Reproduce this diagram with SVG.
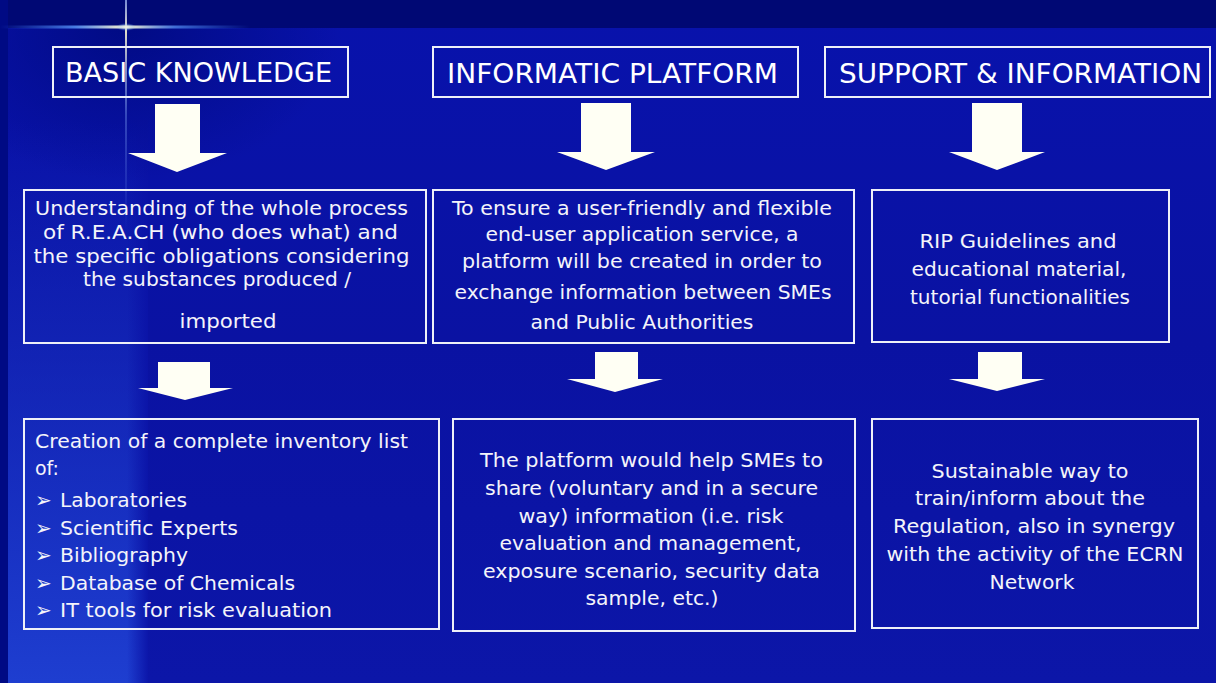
<svg xmlns="http://www.w3.org/2000/svg" width="1216" height="683" viewBox="0 0 1216 683">
  <defs>
    <linearGradient id="bgLeft" x1="0" y1="0" x2="0" y2="1">
      <stop offset="0" stop-color="#1a36c8" stop-opacity="0"/>
      <stop offset="0.3" stop-color="#1a36c8" stop-opacity="0.35"/>
      <stop offset="1" stop-color="#1e3ed0" stop-opacity="1"/>
    </linearGradient>
    <linearGradient id="bgLeftEdge" x1="0" y1="0" x2="1" y2="0">
      <stop offset="0" stop-color="#0a12a6" stop-opacity="0"/>
      <stop offset="0.85" stop-color="#0a12a6" stop-opacity="0"/>
      <stop offset="1" stop-color="#0a12a6" stop-opacity="0.9"/>
    </linearGradient>
    <linearGradient id="bgMain" x1="0" y1="0" x2="0" y2="1">
      <stop offset="0" stop-color="#0812ac"/>
      <stop offset="0.5" stop-color="#0a12a2"/>
      <stop offset="1" stop-color="#0c16a8"/>
    </linearGradient>
    <radialGradient id="topLeftDark" cx="0.35" cy="0.1" r="0.6">
      <stop offset="0" stop-color="#000a80" stop-opacity="0.9"/>
      <stop offset="0.5" stop-color="#000a80" stop-opacity="0.45"/>
      <stop offset="1" stop-color="#000a80" stop-opacity="0"/>
    </radialGradient>
    <linearGradient id="flareH" x1="0" y1="0" x2="1" y2="0">
      <stop offset="0" stop-color="#3a78ff" stop-opacity="0"/>
      <stop offset="0.3" stop-color="#5a98ff" stop-opacity="0.8"/>
      <stop offset="0.5" stop-color="#fff8d0" stop-opacity="1"/>
      <stop offset="0.7" stop-color="#5a98ff" stop-opacity="0.7"/>
      <stop offset="1" stop-color="#3a78ff" stop-opacity="0"/>
    </linearGradient>
    <linearGradient id="flareV" x1="0" y1="0" x2="0" y2="1">
      <stop offset="0" stop-color="#a8c0ff" stop-opacity="0.7"/>
      <stop offset="0.13" stop-color="#fff8d0" stop-opacity="0.9"/>
      <stop offset="0.5" stop-color="#8ab0ff" stop-opacity="0.35"/>
      <stop offset="1" stop-color="#8ab0ff" stop-opacity="0"/>
    </linearGradient>
    <radialGradient id="glow" cx="0.5" cy="0.5" r="0.5">
      <stop offset="0" stop-color="#fffbe0" stop-opacity="1"/>
      <stop offset="1" stop-color="#6aa8ff" stop-opacity="0"/>
    </radialGradient>
    <style>
      .box { fill: none; stroke: #eef0f8; stroke-width: 2; }
      .arrow { fill: #fffff4; }
      .hdr { font-family: "DejaVu Sans", "Liberation Sans", sans-serif; font-size: 26px; fill: #ffffff; }
      .txt { font-family: "DejaVu Sans", "Liberation Sans", sans-serif; font-size: 20px; fill: #f4f4fa; }
      .c { text-anchor: middle; }
    </style>
  </defs>

  <!-- background -->
  <rect x="0" y="0" width="1216" height="683" fill="url(#bgMain)"/>
  <rect x="8" y="120" width="140" height="563" fill="url(#bgLeft)"/>
  <rect x="8" y="120" width="140" height="563" fill="url(#bgLeftEdge)"/>
  <rect x="0" y="0" width="360" height="260" fill="url(#topLeftDark)"/>
  <rect x="0" y="0" width="1216" height="28" fill="#000874"/>
  <rect x="0" y="0" width="8" height="683" fill="#000a84"/>
  <!-- lens flare -->
  <rect x="0" y="25.5" width="250" height="3" fill="url(#flareH)"/>
  <rect x="125" y="0" width="2" height="230" fill="url(#flareV)"/>
  <ellipse cx="126" cy="27" rx="10" ry="4" fill="url(#glow)"/>

  <!-- connectors (block arrows) -->
  <g id="connectors">
    <polygon class="arrow" points="155,104 200,104 200,153 227,153 177,172 128,153 155,153"/>
    <polygon class="arrow" points="581,103 631,103 631,152 655,152 606,170 557,152 581,152"/>
    <polygon class="arrow" points="972,103 1022,103 1022,152 1045,152 997,170 949,152 972,152"/>
    <polygon class="arrow" points="158,362 210,362 210,388 233,388 185,400 138,388 158,388"/>
    <polygon class="arrow" points="595,352 638,352 638,379 663,379 615,392 567,379 595,379"/>
    <polygon class="arrow" points="978,352 1022,352 1022,379 1045,379 997,391 949,379 978,379"/>
  </g>

  <!-- headers -->
  <g id="hdr-basic">
    <rect class="box" x="53" y="47" width="295" height="50"/>
    <text class="hdr" x="65" y="82" textLength="267" lengthAdjust="spacingAndGlyphs">BASIC KNOWLEDGE</text>
  </g>
  <g id="hdr-informatic">
    <rect class="box" x="433" y="47" width="365" height="50"/>
    <text class="hdr" x="447" y="83" textLength="331" lengthAdjust="spacingAndGlyphs">INFORMATIC PLATFORM</text>
  </g>
  <g id="hdr-support">
    <rect class="box" x="825" y="47" width="385" height="50"/>
    <text class="hdr" x="839" y="83" textLength="363" lengthAdjust="spacingAndGlyphs">SUPPORT &amp; INFORMATION</text>
  </g>

  <!-- middle row -->
  <g id="mid-basic">
    <rect class="box" x="24" y="190" width="402" height="153"/>
    <text class="txt c" x="221.5" y="215" textLength="373" lengthAdjust="spacingAndGlyphs">Understanding of the whole process</text>
    <text class="txt c" x="220.5" y="239" textLength="355" lengthAdjust="spacingAndGlyphs">of R.E.A.CH (who does what) and</text>
    <text class="txt c" x="221.5" y="263" textLength="376" lengthAdjust="spacingAndGlyphs">the specific obligations considering</text>
    <text class="txt c" x="217" y="286" textLength="268" lengthAdjust="spacingAndGlyphs">the substances produced /</text>
    <text class="txt c" x="228" y="328" textLength="97" lengthAdjust="spacingAndGlyphs">imported</text>
  </g>
  <g id="mid-informatic">
    <rect class="box" x="433" y="190" width="421" height="153"/>
    <text class="txt c" x="642" y="215" textLength="380" lengthAdjust="spacingAndGlyphs">To ensure a user-friendly and flexible</text>
    <text class="txt c" x="642" y="241" textLength="313" lengthAdjust="spacingAndGlyphs">end-user application service, a</text>
    <text class="txt c" x="642" y="268" textLength="360" lengthAdjust="spacingAndGlyphs">platform will be created in order to</text>
    <text class="txt c" x="643" y="299" textLength="377" lengthAdjust="spacingAndGlyphs">exchange information between SMEs</text>
    <text class="txt c" x="642" y="329" textLength="223" lengthAdjust="spacingAndGlyphs">and Public Authorities</text>
  </g>
  <g id="mid-support">
    <rect class="box" x="872" y="190" width="297" height="152"/>
    <text class="txt c" x="1018" y="248" textLength="197" lengthAdjust="spacingAndGlyphs">RIP Guidelines and</text>
    <text class="txt c" x="1019" y="276" textLength="215" lengthAdjust="spacingAndGlyphs">educational material,</text>
    <text class="txt c" x="1020" y="304" textLength="220" lengthAdjust="spacingAndGlyphs">tutorial functionalities</text>
  </g>

  <!-- bottom row -->
  <g id="bot-basic">
    <rect class="box" x="24" y="419" width="415" height="210"/>
    <text class="txt" x="35" y="448" textLength="373" lengthAdjust="spacingAndGlyphs">Creation of a complete inventory list</text>
    <text class="txt" x="35" y="475" textLength="24" lengthAdjust="spacingAndGlyphs">of:</text>
    <text class="txt" x="35" y="507">➢</text>
    <text class="txt" x="60" y="507" textLength="127" lengthAdjust="spacingAndGlyphs">Laboratories</text>
    <text class="txt" x="35" y="535">➢</text>
    <text class="txt" x="60" y="535" textLength="178" lengthAdjust="spacingAndGlyphs">Scientific Experts</text>
    <text class="txt" x="35" y="562">➢</text>
    <text class="txt" x="60" y="562" textLength="128" lengthAdjust="spacingAndGlyphs">Bibliography</text>
    <text class="txt" x="35" y="590">➢</text>
    <text class="txt" x="60" y="590" textLength="235" lengthAdjust="spacingAndGlyphs">Database of Chemicals</text>
    <text class="txt" x="35" y="617">➢</text>
    <text class="txt" x="60" y="617" textLength="272" lengthAdjust="spacingAndGlyphs">IT tools for risk evaluation</text>
  </g>
  <g id="bot-informatic">
    <rect class="box" x="453" y="419" width="402" height="212"/>
    <text class="txt c" x="651.5" y="467" textLength="343" lengthAdjust="spacingAndGlyphs">The platform would help SMEs to</text>
    <text class="txt c" x="651.5" y="495" textLength="333" lengthAdjust="spacingAndGlyphs">share (voluntary and in a secure</text>
    <text class="txt c" x="651" y="523" textLength="265" lengthAdjust="spacingAndGlyphs">way) information (i.e. risk</text>
    <text class="txt c" x="650.5" y="550" textLength="302" lengthAdjust="spacingAndGlyphs">evaluation and management,</text>
    <text class="txt c" x="651.5" y="578" textLength="337" lengthAdjust="spacingAndGlyphs">exposure scenario, security data</text>
    <text class="txt c" x="652" y="605" textLength="133" lengthAdjust="spacingAndGlyphs">sample, etc.)</text>
  </g>
  <g id="bot-support">
    <rect class="box" x="872" y="419" width="326" height="209"/>
    <text class="txt c" x="1030" y="478" textLength="197" lengthAdjust="spacingAndGlyphs">Sustainable way to</text>
    <text class="txt c" x="1030" y="505" textLength="230" lengthAdjust="spacingAndGlyphs">train/inform about the</text>
    <text class="txt c" x="1034" y="533" textLength="282" lengthAdjust="spacingAndGlyphs">Regulation, also in synergy</text>
    <text class="txt c" x="1035" y="561" textLength="297" lengthAdjust="spacingAndGlyphs">with the activity of the ECRN</text>
    <text class="txt c" x="1032" y="589" textLength="85" lengthAdjust="spacingAndGlyphs">Network</text>
  </g>
</svg>
